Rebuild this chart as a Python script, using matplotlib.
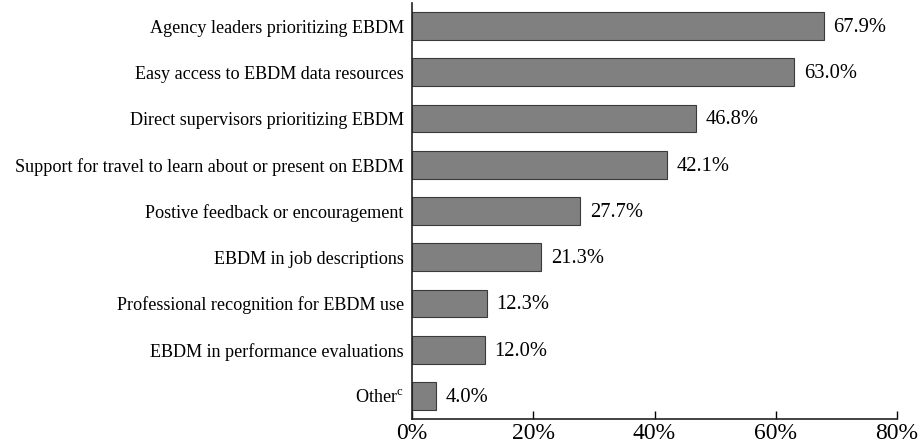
import matplotlib
matplotlib.use("Agg")
import matplotlib.pyplot as plt

categories = [
    "Agency leaders prioritizing EBDM",
    "Easy access to EBDM data resources",
    "Direct supervisors prioritizing EBDM",
    "Support for travel to learn about or present on EBDM",
    "Postive feedback or encouragement",
    "EBDM in job descriptions",
    "Professional recognition for EBDM use",
    "EBDM in performance evaluations",
    "Other$^{\\mathregular{c}}$",
]
values = [67.9, 63.0, 46.8, 42.1, 27.7, 21.3, 12.3, 12.0, 4.0]
xticks = [0, 20, 40, 60, 80]

plt.rcParams['font.family'] = ['Liberation Serif', 'DejaVu Serif']
plt.rcParams['mathtext.fontset'] = 'custom'
plt.rcParams['mathtext.rm'] = 'Liberation Serif'
plt.rcParams['mathtext.it'] = 'Liberation Serif'
plt.rcParams['mathtext.bf'] = 'Liberation Serif'

fig = plt.figure(figsize=(9.22, 4.46), dpi=100)
ax = fig.add_axes([412/922, 1 - 419/446, (897-412)/922, 416/446])

ypos = list(range(len(categories)))
ax.barh(ypos, values, height=0.6, color='#808080', edgecolor='#3a3a3a', linewidth=0.8)
for y, v in zip(ypos, values):
    ax.text(v + 1.6, y + 0.03, f"{v:.1f}%", va='center', ha='left', fontsize=14.8)

ax.set_yticks(ypos)
ax.set_yticklabels(categories, fontsize=13.1)
ax.set_ylim(len(categories) - 0.5, -0.5)
ax.set_xlim(0, 80)
ax.set_xticks(xticks)
ax.set_xticklabels([f"{t}%" for t in xticks], fontsize=17)
ax.tick_params(axis='y', length=0, pad=6)
ax.tick_params(axis='x', direction='in', length=6, width=1, pad=3)
for s in ['top', 'right']:
    ax.spines[s].set_visible(False)
for s in ['left', 'bottom']:
    ax.spines[s].set_linewidth(1.2)
    ax.spines[s].set_color('#222222')

fig.savefig("out.png", dpi=100)
